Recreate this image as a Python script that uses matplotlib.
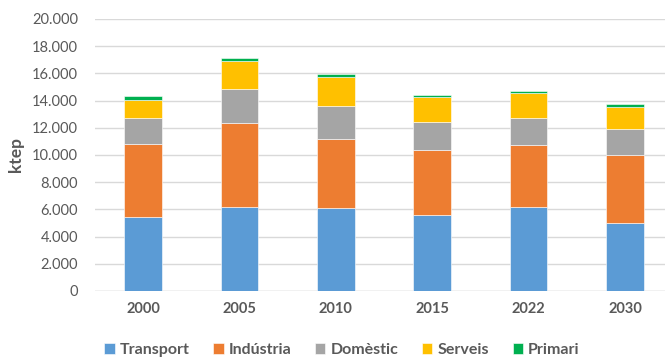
import matplotlib.pyplot as plt
import numpy as np

plt.rcParams['font.family'] = ['Lato', 'DejaVu Sans']

# Final energy consumption by sector (ktep)
years = ['2000', '2005', '2010', '2015', '2022', '2030']
transport = [5450, 6180, 6080, 5590, 6150, 5020]
industria = [5330, 6200, 5070, 4800, 4560, 4950]
domestic = [1920, 2470, 2450, 2040, 1990, 1940]
serveis = [1370, 2040, 2110, 1810, 1830, 1640]
primari = [270, 240, 250, 170, 200, 220]

sectors = ['Transport', 'Indústria', 'Domèstic', 'Serveis', 'Primari']
colors = ['#5B9BD5', '#ED7D31', '#A5A5A5', '#FFC000', '#00B050']
series = [transport, industria, domestic, serveis, primari]

fig = plt.figure(figsize=(6.65, 3.6), dpi=100)
ax = fig.add_axes([0.1426, 0.1917, 0.8698, 0.7556])

x = np.arange(len(years))
bottom = np.zeros(len(years))
handles = []
for name, vals, col in zip(sectors, series, colors):
    b = ax.bar(x, vals, width=0.39, bottom=bottom, color=col, label=name,
               edgecolor='white', linewidth=0.4, zorder=3)
    handles.append(b)
    bottom += np.array(vals)

ax.set_xlim(-0.5, len(years) - 0.5)
ax.set_ylim(0, 20000)
ax.set_yticks(np.arange(0, 20001, 2000))
ax.set_yticklabels([f'{v:,}'.replace(',', '.') for v in range(0, 20001, 2000)])
ax.set_xticks(x)
ax.set_xticklabels(years, fontweight='bold')
ax.tick_params(axis='both', length=0, colors='#595959', labelsize=10.5)
ax.tick_params(axis='x', pad=8)
ax.tick_params(axis='y', pad=12)
ax.grid(axis='y', color='#D9D9D9', linewidth=1, zorder=0)
for s in ['top', 'right', 'left', 'bottom']:
    ax.spines[s].set_visible(False)
ax.axhline(0, color='#D9D9D9', linewidth=1, zorder=1)

ax.set_ylabel('ktep', fontsize=12.5, fontweight='bold', color='#595959', labelpad=6)

leg = fig.legend(handles=handles, labels=sectors, loc='center', ncol=5,
                 bbox_to_anchor=(0.514, 0.027), frameon=False,
                 handlelength=0.65, handleheight=0.65, handletextpad=0.3,
                 columnspacing=1.5, prop={'weight': 'bold', 'size': 11.5})
for t in leg.get_texts():
    t.set_color('#595959')

fig.savefig('out.png', dpi=100)
